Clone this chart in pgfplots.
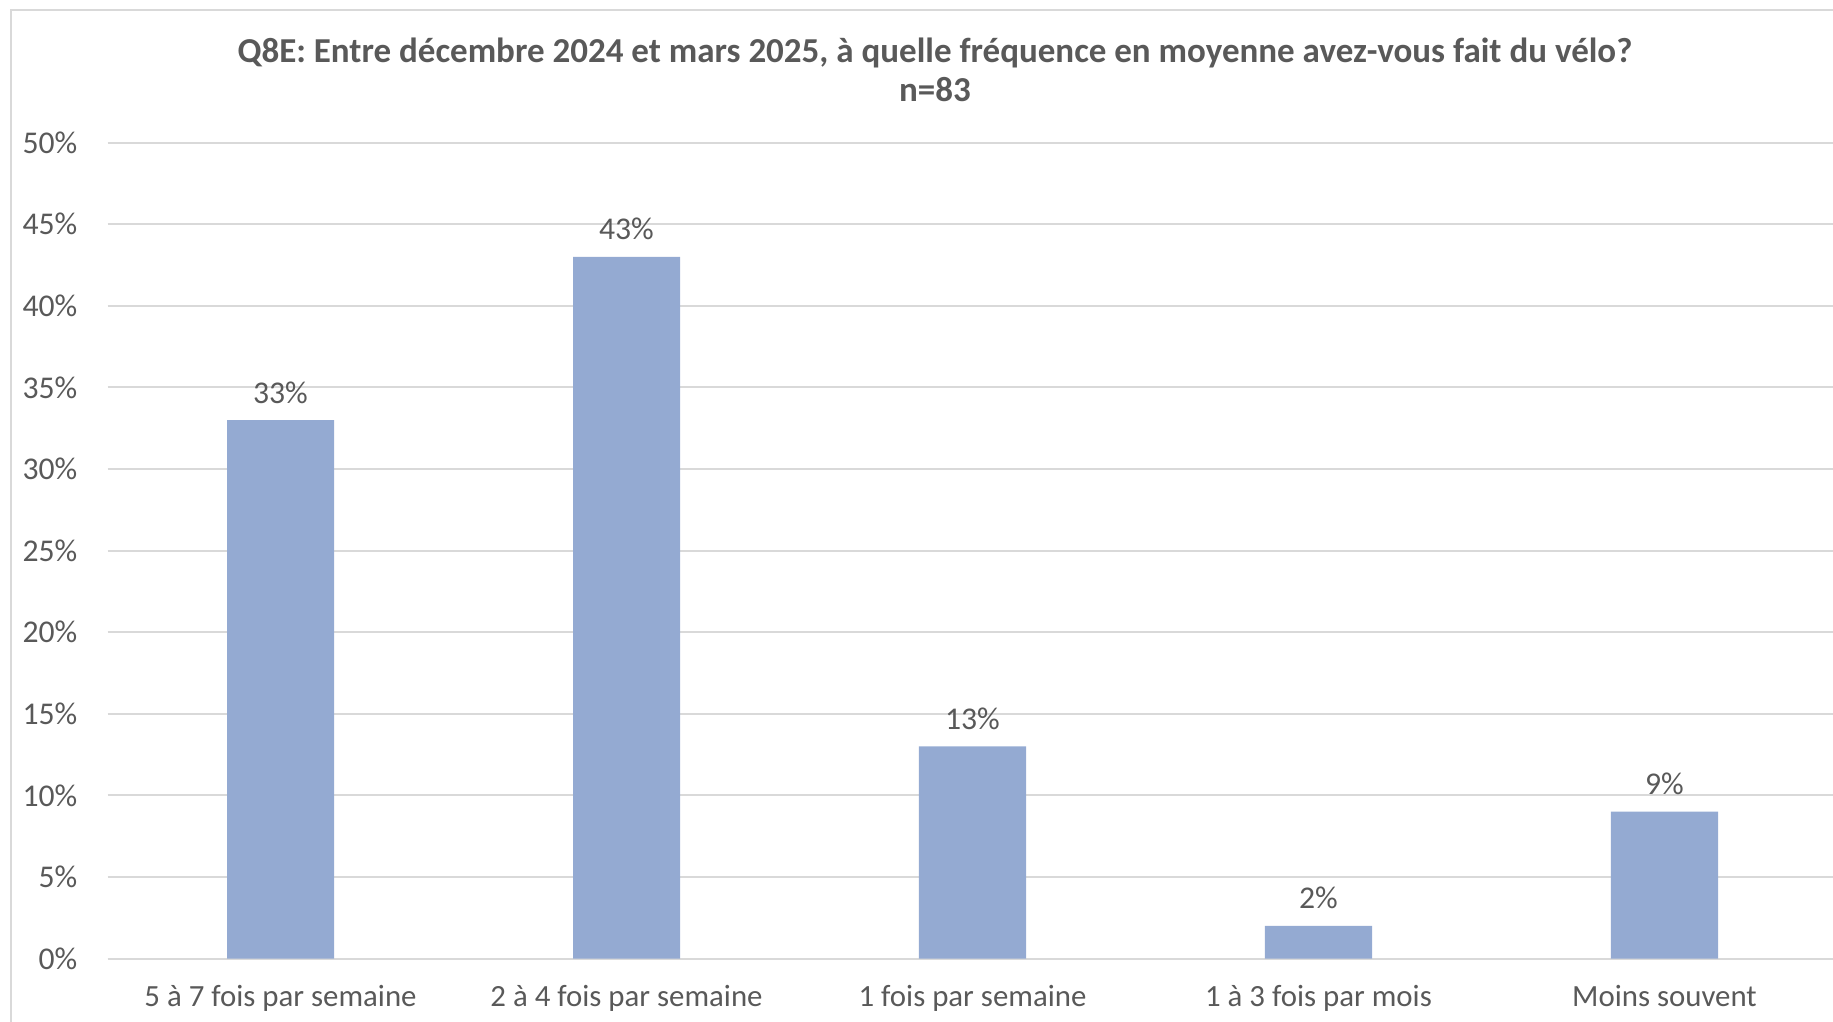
\documentclass[border=0pt]{standalone}
\usepackage{pgfplots}
\pgfplotsset{compat=1.18}
\usepackage{fontspec}
\setmainfont{Carlito}
\definecolor{barblue}{HTML}{94AAD2}
\definecolor{txtgray}{HTML}{595959}
\definecolor{gridgray}{HTML}{D9D9D9}
\begin{document}
\begin{tikzpicture}[x=0.3pt,y=0.3pt]
% page = 1833 x 1021 px, 1 px = 0.3pt
\useasboundingbox (0,0) rectangle (1833,1021);
\clip (0,0) rectangle (1833,1021);
\draw[gridgray, line width=0.4pt] (11,-20) rectangle (1870,1011);
\begin{axis}[
  at={(32.25pt,18.72pt)}, anchor=south west,
  scale only axis, width=519pt, height=244.8pt,
  ybar, bar width=32.1pt,
  xmin=-0.5, xmax=4.5, ymin=0, ymax=50,
  xtick=data,
  xticklabels={5 à 7 fois par semaine, 2 à 4 fois par semaine, 1 fois par semaine, 1 à 3 fois par mois, Moins souvent},
  ytick={0,5,10,15,20,25,30,35,40,45,50},
  yticklabels={0\%,5\%,10\%,15\%,20\%,25\%,30\%,35\%,40\%,45\%,50\%},
  major tick length=0pt,
  axis y line*=left, y axis line style={draw=none},
  axis x line*=bottom, x axis line style={gridgray, line width=0.6pt},
  ymajorgrids, grid style={gridgray, line width=0.6pt},
  yticklabel style={font=\fontsize{9.5}{11}\selectfont, text=txtgray, inner sep=0pt, anchor=east, xshift=-8.85pt},
  xticklabel style={font=\fontsize{9.25}{11}\selectfont, text=txtgray, inner sep=0pt, anchor=base, yshift=-14.5pt},
  nodes near coords={\pgfmathprintnumber[assume math mode=true]{\pgfplotspointmeta}\%},
  every node near coord/.append style={font=\fontsize{9.5}{11}\selectfont, text=txtgray, inner sep=0pt, anchor=base, yshift=5.1pt},
]
\addplot[fill=barblue, draw=none] coordinates {(0,33) (1,43) (2,13) (3,2) (4,9)};
\end{axis}
\node[anchor=base, text=txtgray, font=\fontsize{10.5}{12}\selectfont\bfseries] at (935,958.6) {Q8E: Entre décembre 2024 et mars 2025, à quelle fréquence en moyenne avez-vous fait du vélo?};
\node[anchor=base, text=txtgray, font=\fontsize{10.5}{12}\selectfont\bfseries] at (935,919) {n=83};
\end{tikzpicture}
\end{document}
